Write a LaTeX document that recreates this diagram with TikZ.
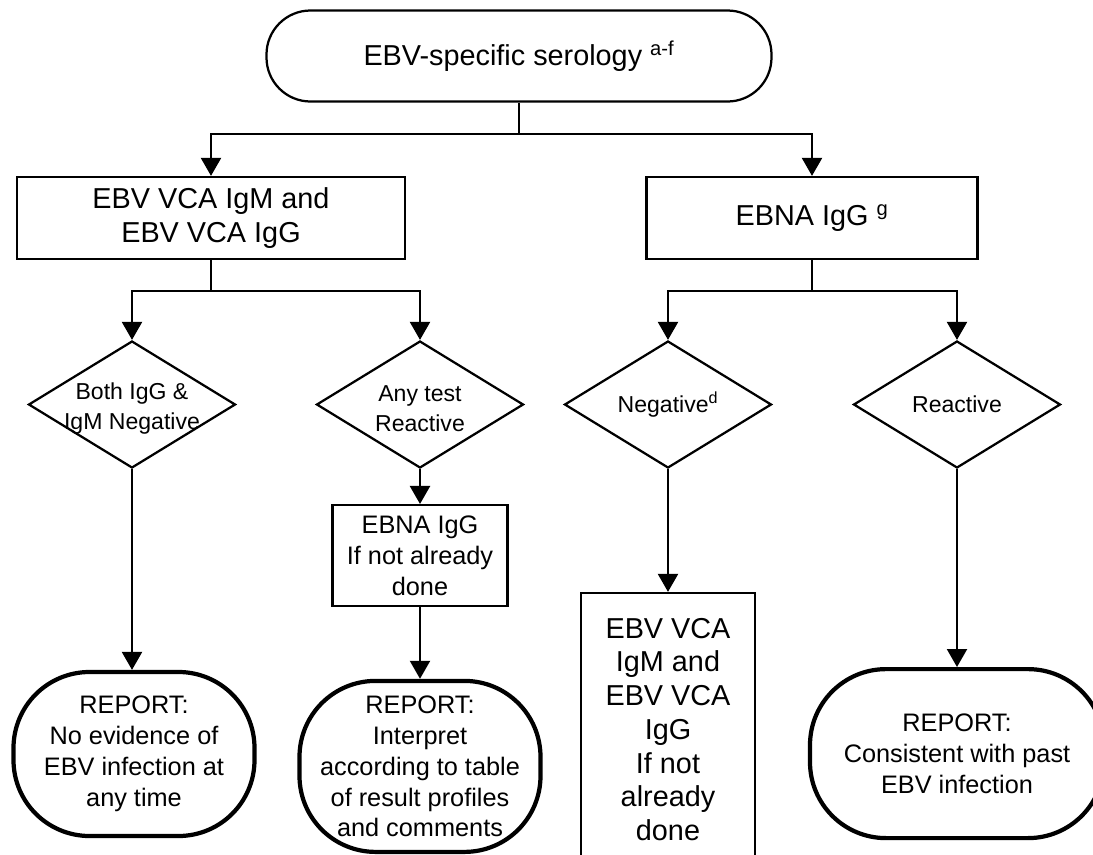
\documentclass[tikz,border=0pt]{standalone}
\usepackage{fontspec}
\setmainfont{Liberation Sans}
\usetikzlibrary{arrows.meta, shapes.geometric}

\begin{document}
\begin{tikzpicture}[
    base/.style={align=center, inner sep=1mm, line width=1.6pt},
    term/.style={base, draw, rounded corners=1.1cm, font=\fontsize{20.5}{24}\selectfont},
    test/.style={base, draw, font=\fontsize{20.5}{24}\selectfont},
    small/.style={base, draw, font=\fontsize{18}{22}\selectfont},
    decision/.style={diamond, draw, line width=1.6pt, inner sep=0pt,
                     minimum width=5.175cm, minimum height=3.175cm},
    dlab/.style={align=center, inner sep=0pt, font=\fontsize{16.4}{21}\selectfont},
    report/.style={base, draw, line width=3pt, rounded corners=1.9cm,
                   font=\fontsize{18}{22}\selectfont},
    line/.style={-{Triangle[length=4.5mm, width=5mm]}, line width=1.6pt},
  ]
  \useasboundingbox (0,0) rectangle (27.325,-21.35);
  % serology and the two first tests
  \node[term, minimum width=12.625cm, minimum height=2.275cm] (sero) at (12.975,-1.4)
    {EBV-specific serology \textsuperscript{a-f}};
  \node[test, minimum width=9.7cm, minimum height=2.05cm] (vca) at (5.275,-5.45)
    {EBV VCA IgM and\\EBV VCA IgG};
  \node[test, minimum width=8.275cm, minimum height=2.05cm] (ebna) at (20.3,-5.45)
    {EBNA IgG \textsuperscript{g}};
  \coordinate (splitA) at (12.975,-3.35);
  \coordinate (splitL) at (5.275,-7.275);
  \coordinate (splitR) at (20.3,-7.275);
  % decisions
  \node[decision] (bothneg)  at (3.3,-10.1125) {};
  \node[decision] (anyreact) at (10.5,-10.1125) {};
  \node[decision] (neg)      at (16.7,-10.1125) {};
  \node[decision] (react)    at (23.925,-10.1125) {};
  \node[dlab] (bothnegt)  at ([yshift=-1mm]bothneg.center)  {Both IgG \&\\IgM Negative};
  \node[dlab] (anyreactt) at ([yshift=-1mm]anyreact.center) {Any test\\Reactive};
  \node[dlab] (negt)      at (neg.center)   {Negative\textsuperscript{d}};
  \node[dlab] (reactt)    at (react.center) {Reactive};
  % follow-up tests
  \node[small, minimum width=4.375cm, minimum height=2.525cm] (ebnachk) at (10.5,-13.89)
    {EBNA IgG\\If not already\\done};
  \node[test, minimum width=4.35cm, minimum height=6.825cm] (vcachk) at (16.7,-18.2375)
    {EBV VCA\\IgM and\\EBV VCA\\IgG\\If not\\already\\done};
  % reports
  \node[report, minimum width=6.025cm, minimum height=4.1cm] (noinf) at (3.35,-18.85)
    {REPORT:\\No evidence of\\EBV infection at\\any time};
  \node[report, minimum width=6.025cm, minimum height=4.275cm] (interp) at (10.5,-19.16)
    {REPORT:\\Interpret\\according to table\\of result profiles\\and comments};
  \node[report, minimum width=7.35cm, minimum height=4.225cm] (past) at (23.925,-18.84)
    {REPORT:\\Consistent with past\\EBV infection};
  % arrows
  \draw[line width=1.6pt] (sero.south) -- (splitA);
  \draw[line] (splitA) -| (vca.north);
  \draw[line] (splitA) -| (ebna.north);
  \draw[line] (vca.south) -- (splitL) -| (bothneg.north);
  \draw[line] (splitL) -| (anyreact.north);
  \draw[line] (ebna.south) -- (splitR) -| (neg.north);
  \draw[line] (splitR) -| (react.north);
  \draw[line] (bothneg.south) -- (bothneg.south |- noinf.north);
  \draw[line] (anyreact.south) -- (ebnachk.north);
  \draw[line] (ebnachk.south) -- (interp.north);
  \draw[line] (neg.south) -- (vcachk.north);
  \draw[line] (react.south) -- (past.north);
\end{tikzpicture}
\end{document}
